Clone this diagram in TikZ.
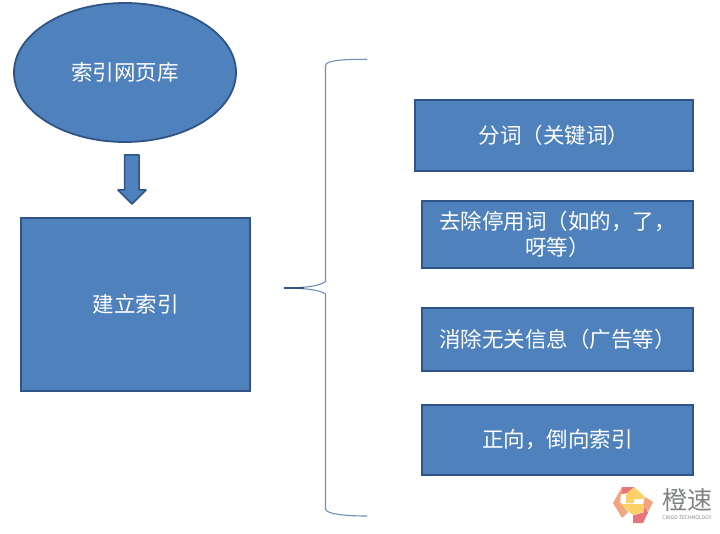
\documentclass[tikz,border=0pt]{standalone}
\usepackage{fontspec}
\usetikzlibrary{shapes.geometric}
\setmainfont{Noto Sans CJK SC}
\definecolor{fillb}{HTML}{4F81BD}
\definecolor{edgeb}{HTML}{2F5485}
\definecolor{bracec}{HTML}{6F8FB8}
\definecolor{logored}{HTML}{E8757A}
\definecolor{logosalmon}{HTML}{F3A57F}
\definecolor{logoyellow}{HTML}{FBD168}
\definecolor{logogray}{HTML}{7F8385}
\tikzset{
  block/.style={draw=edgeb,line width=1.8pt,fill=fillb,text=white,font=\fontsize{21.5}{26}\selectfont,align=center,inner sep=0pt,minimum width=#1},
  block/.default=100pt,
  arrowshape/.style={draw=edgeb,line width=1.5pt,fill=fillb,line join=round},
  bracket/.style={draw=bracec,line width=1.1pt}
}
\begin{document}
\begin{tikzpicture}[x=1pt,y=-1pt]
\useasboundingbox (0,0) rectangle (720,534);
\fill[white] (0,0) rectangle (720,534);
\node[ellipse,block=222pt,minimum height=139pt] (lib) at (125,72.5) {索引网页库};
\node[rectangle,block=229pt,minimum height=173pt] (build) at (135.5,304.5) {建立索引};
\node[rectangle,block=278pt,minimum height=71pt] (b1) at (554,135.5) {分词（关键词）};
\node[rectangle,block=271pt,minimum height=67pt] (b2) at (557.5,234.5) {去除停用词（如的，了，\\呀等）};
\node[rectangle,block=271pt,minimum height=63pt] (b3) at (557.5,339.5) {消除无关信息（广告等）};
\node[rectangle,block=271pt,minimum height=70pt] (b4) at (557.5,440) {正向，倒向索引};
\coordinate (a1) at (124.5,155);
\coordinate (a2) at (139,155);
\coordinate (a3) at (139,190);
\coordinate (a4) at (146,190);
\coordinate (a5) at (132,204);
\coordinate (a6) at (118,190);
\coordinate (a7) at (124.5,190);
\draw[arrowshape] (a1)--(a2)--(a3)--(a4)--(a5)--(a6)--(a7)--cycle;
\coordinate (bt) at (367,59.3);
\coordinate (bm) at (284,288);
\coordinate (bb) at (367,516);
\draw[bracket] (bt) .. controls (345,59.3) and (326,60) .. (325.5,65.5) -- (325.5,281.5)
  .. controls (320,286) and (305,288) .. (bm)
  .. controls (305,288) and (320,290) .. (325.5,294) -- (325.5,509)
  .. controls (326,514) and (345,516) .. (bb);
\fill[edgeb] (284,287.2) -- (304,287.2) -- (304,288.8) -- (284,288.8) -- cycle;
% logo
\fill[logored] (622,487) -- (634,487) -- (629,493) -- (621,494) -- cycle;
\fill[logosalmon] (613,503) -- (622,487) -- (621,494) -- (620,502) -- (628,512) -- (622,518) -- cycle;
\fill[logoyellow] (634,487) -- (644,496) -- (645,499) -- (634,499) -- (634,503) -- (626,503) -- (626,494) -- cycle;
\fill[logoyellow] (621,504) -- (643,504) -- (643,512) -- (633,515) -- (628,511) -- cycle;
\fill[logosalmon] (645,497) -- (653,502) -- (648,512) -- (643,505) -- cycle;
\fill[logored] (633,515.5) -- (643.5,512.5) -- (643.5,506) -- (648,512.5) -- (643,523) -- (633,523) -- cycle;
\node[text=logogray,font=\fontsize{25}{25}\selectfont,inner sep=0pt] (logoa) at (687,500) {橙速};
\node[text=logogray,font=\fontsize{5}{5}\selectfont,inner sep=0pt] (logob) at (687,518) {CINGO TECHNOLOGY};
\end{tikzpicture}
\end{document}
